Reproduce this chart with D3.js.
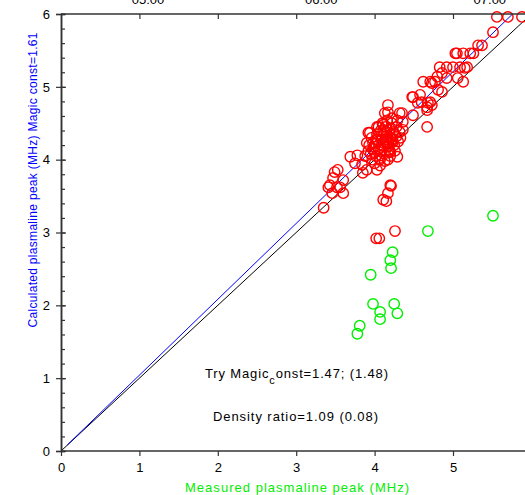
<!DOCTYPE html>
<html>
<head>
<meta charset="utf-8">
<script src="https://cdn.jsdelivr.net/npm/d3@7"></script>
<style>
body{margin:0;background:#fff;}
svg{display:block;font-family:"Liberation Sans",Arial,sans-serif;}
</style>
</head>
<body>
<svg id="chart" width="525" height="495"></svg>
<script>
// measured vs calculated plasma line peak (MHz)
let redX = [3.35,3.53,3.49,3.47,3.43,3.56,3.60,3.46,3.41,3.52,3.60,3.69,3.78,3.75,3.84,3.90,4.03,3.85,4.07,3.92,
    3.98,3.90,3.94,4.03,4.11,4.23,4.32,4.11,4.17,4.17,4.22,4.35,4.36,4.32,4.49,4.58,4.60,4.67,4.71,4.67,
    4.36,4.23,4.20,4.29,4.17,4.20,4.17,4.11,4.15,4.21,4.26,4.02,4.06,
    4.62,4.71,4.77,4.86,4.92,5.00,5.09,5.18,5.06,4.83,4.80,4.92,4.73,4.81,5.13,5.05,5.26,5.37,5.51,5.56,5.70,5.88,
    5.22,5.15,5.03,5.13,5.32,4.48,4.55,4.68,4.67,4.49,4.13,4.16,4.29,4.03,4.86,4.73,
    4.00,4.05,4.10,4.15,4.20,4.25,4.02,4.08,4.12,4.18,4.22,4.28,3.97,4.04,4.10,4.15,4.20,4.06,4.12,4.18,
    4.25,4.30,3.98,4.03,4.08,4.14,3.95,4.00,4.07,4.13,4.20,4.26,4.33,4.10,4.22,3.92,3.96,4.17,4.05,4.28,
    3.88,3.93,4.01,4.09,4.16,4.24,4.14,4.19,3.99,4.11];
let redY = [3.34,3.86,3.83,3.75,3.65,3.62,3.54,3.54,3.62,3.62,3.72,4.04,4.06,3.95,3.93,3.86,3.86,3.82,4.00,4.37,
    4.23,4.23,4.37,4.27,4.23,4.27,4.38,4.48,4.75,4.65,4.57,4.64,4.52,4.64,4.86,4.89,4.79,4.72,4.79,4.45,
    4.41,4.24,4.11,4.04,4.00,3.65,3.54,3.45,3.43,3.64,3.02,2.92,2.92,
    5.07,5.07,5.07,5.19,5.27,5.27,5.27,5.27,5.12,5.27,5.14,5.12,5.05,4.96,5.07,5.46,5.46,5.57,5.75,5.96,5.96,5.96,
    5.46,5.26,5.46,5.46,5.57,4.86,4.78,4.78,4.68,4.61,4.64,4.54,4.54,4.45,4.93,4.75,
    4.10,4.15,4.20,4.25,4.30,4.35,4.05,4.12,4.18,4.22,4.28,4.32,4.00,4.25,4.32,4.38,4.42,4.02,4.08,4.14,
    4.20,4.25,4.15,4.35,4.40,4.45,4.08,3.95,3.92,3.98,4.05,4.12,4.30,4.50,4.50,4.12,4.30,4.18,4.45,4.45,
    4.05,4.20,4.22,4.28,4.33,4.38,4.28,4.10,4.18,4.40];
let greenX = [5.51,4.68,4.23,4.20,4.21,3.95,3.98,4.07,4.07,4.25,4.29,3.81,3.78];
let greenY = [3.23,3.02,2.73,2.62,2.51,2.42,2.02,1.91,1.81,2.02,1.89,1.72,1.61];
let identityLine = [[0,0],[6,6]];
let fitLine = [[0.08,0.083],[5.76,6.0]];
let xTicks = [0,1,2,3,4,5];
let yTicks = [0,1,2,3,4,5,6];
let topLabels = ["05:00","06:00","07:00"];
let topLabelPos = [1.11,3.32,5.47];

let svg = d3.select("#chart");
let plotLeft = 61, plotTop = 14, plotBottom = 451;
let x = d3.scaleLinear().domain([0,6]).range([plotLeft, plotLeft + 6*78.4]);
let y = d3.scaleLinear().domain([0,6]).range([plotBottom, plotTop]);

// lines
let line = d3.line().x(d => x(d[0])).y(d => y(d[1]));
svg.append("path").datum(identityLine).attr("d", line)
    .attr("fill","none").attr("stroke","#000").attr("stroke-width",1);
svg.append("path").datum(fitLine).attr("d", line)
    .attr("fill","none").attr("stroke","#0000ff").attr("stroke-width",1);

// points
svg.append("g").selectAll("circle").data(d3.zip(redX, redY)).join("circle")
    .attr("cx", d => x(d[0])).attr("cy", d => y(d[1])).attr("r", 5.2)
    .attr("fill","none").attr("stroke","#ff0000").attr("stroke-width",1.4);
svg.append("g").selectAll("circle").data(d3.zip(greenX, greenY)).join("circle")
    .attr("cx", d => x(d[0])).attr("cy", d => y(d[1])).attr("r", 5.2)
    .attr("fill","none").attr("stroke","#00ee00").attr("stroke-width",1.4);

// axes
let xAxis = svg.append("g").attr("transform", `translate(0,${plotBottom})`)
    .call(d3.axisBottom(x).tickValues(xTicks).tickSize(5).tickPadding(7).tickFormat(d3.format("d")));
let topAxis = svg.append("g").attr("transform", `translate(0,${plotTop})`)
    .call(d3.axisBottom(x).tickValues(xTicks.slice(1)).tickSize(5).tickFormat(""));
let yMinor = svg.append("g").attr("transform", `translate(${plotLeft},0)`)
    .call(d3.axisRight(y).tickValues(d3.range(0,6.01,0.2)).tickSize(4).tickFormat(""));
let yAxis = svg.append("g").attr("transform", `translate(${plotLeft},0)`)
    .call(d3.axisLeft(y).tickValues(yTicks).tickSize(5).tickPadding(6).tickFormat(d3.format("d")));
yAxis.selectAll(".tick line").attr("x2", 5).attr("x1", -5);
[xAxis, topAxis, yMinor, yAxis].forEach(g => {
    g.selectAll(".domain").attr("stroke","#333").attr("stroke-width",1.5);
    g.selectAll(".tick line").attr("stroke","#333").attr("stroke-width",1.2);
    g.selectAll("text").attr("fill","#000").style("font-size","13px");
});
xAxis.select(".domain").attr("d", `M${plotLeft},0H525`);
topAxis.select(".domain").attr("d", `M${plotLeft},0H525`);

// top time labels, cut off by the window edge as in the original
svg.append("g").selectAll("text").data(topLabels).join("text")
    .attr("x", (d,i) => x(topLabelPos[i])).attr("y", 4)
    .attr("text-anchor","middle").style("font-size","13px").text(d => d);

// axis titles
svg.append("text").attr("x", 297).attr("y", 492).attr("text-anchor","middle")
    .attr("fill","#00ee00").style("font-size","13px").attr("textLength",224)
    .text("Measured plasmaline peak (MHz)");
svg.append("text").attr("transform","translate(37,180) rotate(-90)").attr("text-anchor","middle")
    .attr("fill","#0000ff").style("font-size","12px").attr("textLength",295)
    .text("Calculated plasmaline peak (MHz)  Magic const=1.61");

// annotations
let t1 = svg.append("text").attr("x", 205).attr("y", 378).style("font-size","13px")
    .attr("textLength",183).attr("lengthAdjust","spacing");
t1.append("tspan").text("Try Magic");
t1.append("tspan").attr("dy",6).style("font-size","11px").text("c");
t1.append("tspan").attr("dy",-6).text("onst=1.47; (1.48)");
svg.append("text").attr("x", 213).attr("y", 421).style("font-size","13px")
    .attr("textLength",165).attr("lengthAdjust","spacing")
    .text("Density ratio=1.09 (0.08)");
</script>
</body>
</html>
